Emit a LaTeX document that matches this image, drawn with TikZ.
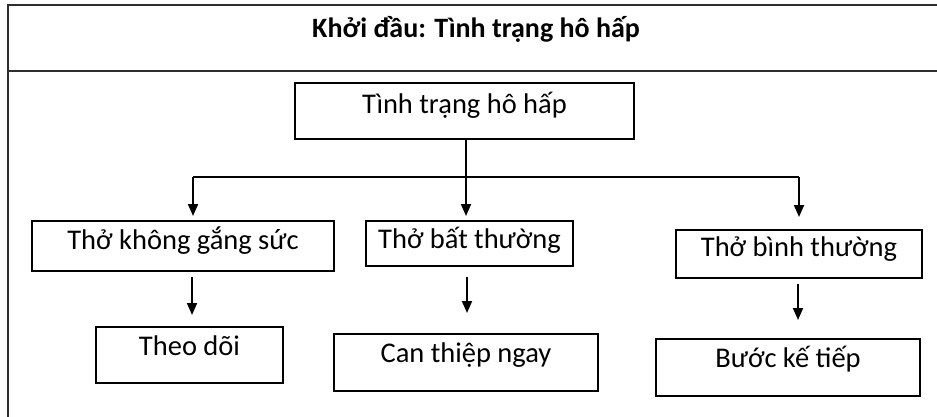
\documentclass[tikz,border=0pt]{standalone}
\usepackage{fontspec}
\setmainfont{Carlito}
\usetikzlibrary{arrows.meta,calc}
\begin{document}
\begin{tikzpicture}[x=1pt,y=-1pt,
  frame/.style={draw=black!82,line width=2.4pt},
  stepbox/.style={draw=black,line width=1.8pt,inner sep=0pt},
  label text/.style={font=\fontsize{28.5}{32}\selectfont,inner sep=0pt,anchor=center},
  flow/.style={line width=1.9pt,-{Triangle[width=10pt,length=12pt]}},
  link/.style={line width=1.9pt}]
\useasboundingbox (0,0) rectangle (937,416);
% outer frame: top rule, header rule and left side
\coordinate (tl) at (8,5);
\coordinate (tr) at (940,5);
\coordinate (ml) at (8,71);
\coordinate (mr) at (940,71);
\coordinate (bl) at (8,418);
\draw[frame] (tr) -- (tl) -- (bl);
\draw[frame] (ml) -- (mr);
\node[font=\fontsize{28}{32}\selectfont\bfseries,inner sep=0pt] (title) at (476,29) {Khởi đầu: Tình trạng hô hấp};
% boxes
\node[stepbox,minimum width=339pt,minimum height=56pt] (root) at (464.5,111) {};
\node[label text] (rootT) at (464.5,105) {Tình trạng hô hấp};
\node[stepbox,minimum width=302pt,minimum height=50pt] (a) at (183,246) {};
\node[label text] (aT) at (183,241) {Thở không gắng sức};
\node[stepbox,minimum width=207pt,minimum height=45pt] (b) at (469.5,243.5) {};
\node[label text] (bT) at (469.5,240) {Thở bất thường};
\node[stepbox,minimum width=246pt,minimum height=48pt] (c) at (799,254) {};
\node[label text] (cT) at (799,249) {Thở bình thường};
\node[stepbox,minimum width=187pt,minimum height=56pt] (d) at (189.5,355) {};
\node[label text] (dT) at (189.5,346) {Theo dõi};
\node[stepbox,minimum width=264pt,minimum height=57pt] (e) at (466,362.5) {};
\node[label text] (eT) at (466,355) {Can thiệp ngay};
\node[stepbox,minimum width=264pt,minimum height=57pt] (f) at (788,367.5) {};
\node[label text] (fT) at (788,359) {Bước kế tiếp};
% branching connectors
\coordinate (hub) at (466,177);
\coordinate (hl) at (193,177);
\coordinate (hr) at (799,177);
\draw[link] (root.south -| hub) -- (hub);
\draw[link] (hl) -- (hr);
\draw[flow] (hl) -- (hl |- 0,216);
\draw[flow] (hub) -- (hub |- 0,216);
\draw[flow] (hr) -- (hr |- 0,217);
% second level
\coordinate (a1) at (192,277);
\coordinate (b1) at (467,277);
\coordinate (c1) at (798,284);
\draw[flow] (a1) -- (a1 |- 0,315);
\draw[flow] (b1) -- (b1 |- 0,313);
\draw[flow] (c1) -- (c1 |- 0,320);
\end{tikzpicture}
\end{document}
